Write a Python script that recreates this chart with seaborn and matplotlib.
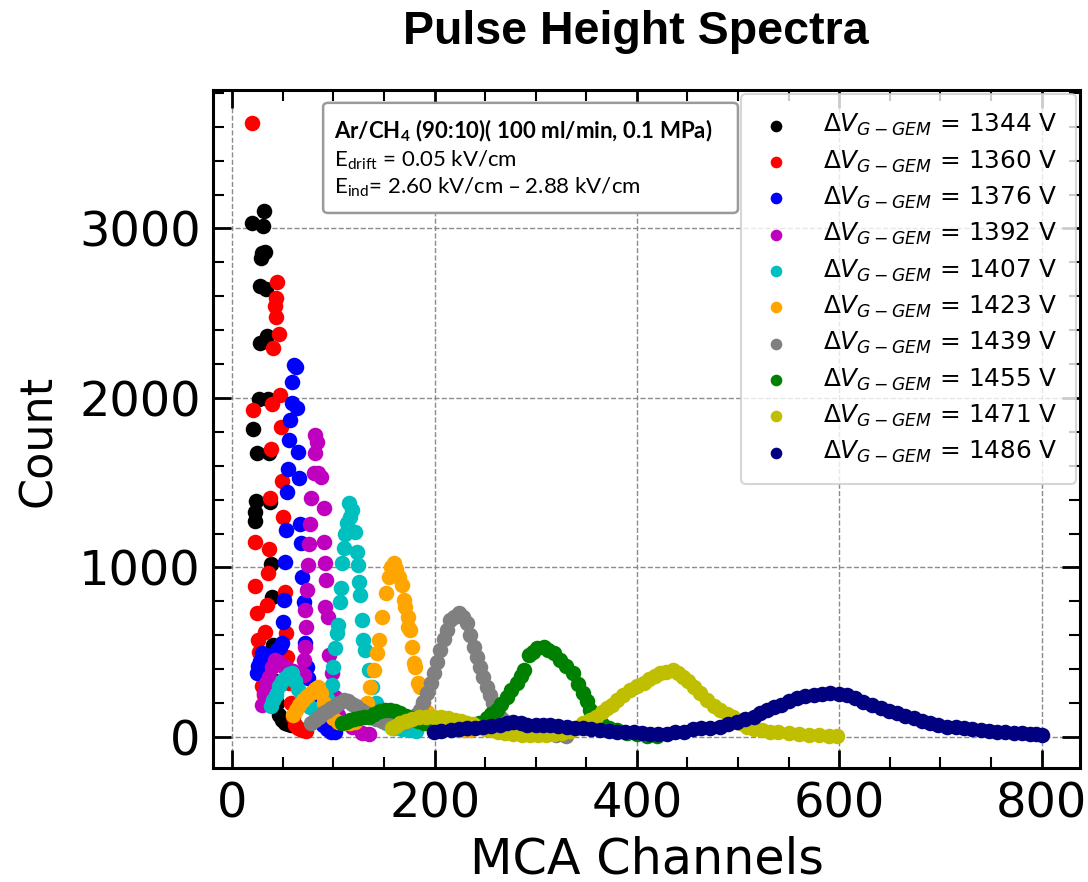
import matplotlib
matplotlib.use("Agg")
import matplotlib.pyplot as plt
from matplotlib.patches import FancyBboxPatch
from matplotlib.ticker import MultipleLocator
import seaborn as sns
import pandas as pd

# Applied voltage across the GEM for each spectrum
voltages = [1344, 1360, 1376, 1392, 1407, 1423, 1439, 1455, 1471, 1486]
colors = ["#000000", "#ff0000", "#0000ff", "#bf00bf", "#00bfbf", "#ffa500", "#808080",
          "#008000", "#bfbf00", "#000080"]

# MCA channel / count pairs for each spectrum
x_1344 = [19.5, 21, 22, 22.7, 23.7, 24, 26, 27, 27, 28.4, 29.6, 30.3, 31, 32.6, 33.6, 34.3, 35.3,
          35.9, 37.6, 38.6, 39, 40, 42, 44, 46, 49, 52, 55, 58, 62]
y_1344 = [3034, 1815, 1276, 1329, 1394, 1674, 1992, 2323, 2663, 2824, 2855, 3017, 3103, 2863, 2643,
          2366, 1992, 1674, 1388, 1019, 828, 543, 330, 200, 130, 100, 85, 78, 72, 68]

x_1360 = [20, 21, 22, 22.7, 24, 25.4, 26, 27.5, 29, 31, 32.6, 34, 35, 36, 37, 38, 39, 40, 42.5,
          43, 43.5, 44, 45.8, 47.5, 48, 49, 50, 52, 53, 54, 56, 58, 60, 62, 65, 69, 73]
y_1360 = [3620, 1929, 1152, 893, 730, 572, 503, 400, 300, 250, 621, 779, 966, 1107, 1408, 1697,
          1965, 2293, 2543, 2480, 2590, 2686, 2378, 2018, 1827, 1512, 1296, 854, 615, 474, 320,
          200, 120, 71, 50, 41, 35]

x_1376 = [24, 25.5, 27, 29, 32, 36, 40, 44, 47, 49, 50, 50.7, 51.7, 53, 53.8, 55, 55.7, 57, 59,
          59, 60.6, 63, 64, 65, 66, 66.5, 68, 69, 70.5, 72, 74, 75, 78, 82, 86, 90, 94, 98, 102]
y_1376 = [376, 420, 450, 494, 480, 470, 490, 510, 530, 553, 680, 808, 1034, 1221, 1447, 1579,
          1752, 1870, 1970, 2096, 2195, 2183, 1941, 1683, 1526, 1257, 1146, 946, 798, 553, 415,
          345, 250, 170, 110, 70, 45, 31, 30]

x_1392 = [29, 31, 33, 36, 39, 42.5, 46, 50, 55, 60, 65, 70.5, 70.5, 71.5, 72.8, 72, 74, 74.8, 76,
          77, 78, 80.4, 82, 82, 83.7, 85, 88, 90.3, 91, 92, 92.6, 92, 95, 96, 98.6, 101.8, 105,
          110, 118, 128, 135]
y_1392 = [190, 260, 320, 356, 410, 454, 440, 420, 400, 390, 380, 366, 454, 533, 651, 749, 867,
          1015, 1139, 1257, 1408, 1556, 1677, 1782, 1742, 1560, 1536, 1349, 1152, 1028, 926, 769,
          710, 484, 376, 238, 130, 90, 61, 22, 20]

x_1407 = [38, 40, 43, 46, 49, 52, 56, 59, 62, 65, 69, 73, 77, 82, 86, 90, 94, 98.6, 100, 102,
          103.5, 104.5, 106.8, 107.8, 108.5, 110, 111.7, 113.4, 115, 116.7, 118, 121.6, 123, 124,
          125, 126.6, 128, 129.6, 131, 135, 138, 142, 146, 152, 160, 168, 176, 182]
y_1407 = [180, 215, 250, 300, 330, 350, 370, 380, 330, 280, 238, 200, 175, 159, 165, 190, 230,
          307, 415, 523, 612, 661, 798, 877, 1025, 1113, 1198, 1261, 1379, 1300, 1340, 1211,
          1093, 1015, 916, 838, 690, 572, 515, 395, 297, 200, 130, 80, 55, 45, 40, 35]

x_1423 = [60, 63, 66, 70, 74, 78, 82, 85, 88, 91, 95, 100, 105, 110, 116, 121, 125, 129, 133,
          136.5, 140, 143, 144.7, 148, 151.6, 154.6, 157, 159.5, 162, 164.5, 168, 169.5, 171,
          174, 174, 176, 177.6, 180, 181, 184, 186, 189, 193, 196, 200, 206, 212, 220, 228, 235]
y_1423 = [130, 160, 190, 215, 240, 260, 285, 297, 260, 200, 150, 110, 90, 80, 80, 90, 110, 150,
          199, 297, 395, 493, 572, 710, 847, 946, 1000, 1025, 990, 946, 897, 808, 769, 710, 651,
          631, 533, 434, 415, 317, 297, 199, 150, 120, 90, 70, 55, 45, 40, 38]

x_1439 = [78, 82, 86, 90, 94, 98, 102, 106, 110, 114, 118, 122, 127, 132, 137, 142, 148, 154,
          160, 166, 172, 177, 182, 186, 189, 192.5, 196, 199, 202, 205.7, 209, 212, 215.6, 219,
          223.8, 228, 232, 235, 238.6, 242, 245, 248, 252, 255, 258, 262, 265, 268, 272, 280,
          290, 300, 310, 320, 330]
y_1439 = [80, 100, 120, 140, 155, 170, 185, 200, 215, 210, 195, 180, 160, 140, 120, 105, 95, 85,
          80, 80, 90, 105, 130, 159, 205, 258, 320, 376, 445, 513, 575, 631, 690, 705, 730, 705,
          671, 600, 533, 470, 415, 355, 297, 245, 199, 160, 120, 100, 80, 55, 35, 25, 18, 12, 8]

x_1455 = [108, 112, 116, 120, 125, 130, 135, 140, 146, 151, 156, 161, 166, 172, 178, 184, 190,
          196, 202, 208, 214, 220, 226, 232, 238, 244, 251.8, 256, 261.7, 266, 271.6, 276, 281.5,
          285, 288, 293, 297, 301, 307.8, 312, 317.7, 324, 330, 337, 342, 347, 351, 354, 357,
          360.6, 366, 372, 380, 390, 400, 410, 420]
y_1455 = [80, 90, 100, 105, 110, 115, 120, 135, 155, 160, 160, 155, 140, 125, 110, 95, 80, 68,
          58, 52, 50, 48, 50, 55, 65, 85, 110, 135, 159, 195, 238, 275, 317, 360, 395, 484, 500,
          523, 533, 515, 493, 454, 420, 376, 315, 258, 210, 159, 130, 100, 75, 55, 40, 25, 15,
          8, 5]

x_1471 = [158, 162, 166, 172, 178, 185, 192, 199, 206, 213, 220, 226, 232, 238, 244, 250, 256,
          263, 270, 278, 286, 294, 302, 310, 318, 326, 334, 341, 347, 354, 360, 366, 370, 375,
          380, 386, 393.5, 400, 406.7, 412, 418, 423, 429, 436, 441, 446, 451, 456, 462, 469,
          476, 482.5, 489, 495.5, 502, 509, 516, 524, 532, 540, 550, 560, 570, 580, 590, 598]
y_1471 = [55, 65, 81, 92, 105, 115, 118, 118, 115, 110, 100, 92, 85, 75, 60, 48, 38, 30, 24, 18,
          14, 12, 12, 14, 18, 25, 35, 55, 80, 100, 120, 145, 169, 190, 218, 245, 277, 300, 317,
          340, 360, 376, 385, 395, 380, 356, 330, 297, 260, 218, 185, 159, 135, 115, 85, 61, 45,
          38, 32, 27, 22, 17, 13, 10, 7, 4]

x_1486 = [199, 206, 216, 224, 232, 240, 248, 256, 265, 272, 278, 285, 291, 300, 307, 314, 322,
          331, 339, 347, 355, 364, 372, 380, 388, 397, 405, 413, 421, 430, 438, 447, 455, 463,
          472, 482.5, 490, 499, 507, 515.5, 522, 529, 536, 542, 550, 558, 566, 575, 583, 591,
          600, 608, 616, 624, 632, 641, 649, 657, 665, 674, 682, 690, 698, 707, 715, 723, 731,
          740, 748, 756, 764, 773, 781, 789, 795, 800]
y_1486 = [31, 35, 41, 45, 50, 55, 61, 66, 70, 80, 90, 80, 70, 72, 70, 70, 65, 61, 55, 50, 45,
          41, 36, 31, 31, 31, 25, 20, 20, 20, 28, 31, 45, 51, 55, 61, 75, 90, 105, 120, 140, 159,
          175, 189, 210, 228, 240, 248, 252, 258, 255, 248, 230, 208, 190, 169, 155, 140, 125,
          110, 95, 81, 70, 61, 56, 51, 46, 41, 36, 31, 28, 25, 22, 20, 15, 10]

xs = [x_1344, x_1360, x_1376, x_1392, x_1407, x_1423, x_1439, x_1455, x_1471, x_1486]
ys = [y_1344, y_1360, y_1376, y_1392, y_1407, y_1423, y_1439, y_1455, y_1471, y_1486]

sns.set_theme(style="ticks")
plt.rcParams["font.family"] = ["DejaVu Sans"]
plt.rcParams["mathtext.fontset"] = "dejavusans"
plt.rcParams["text.color"] = "black"
plt.rcParams["axes.labelcolor"] = "black"
plt.rcParams["xtick.color"] = "black"
plt.rcParams["ytick.color"] = "black"

fig = plt.figure(figsize=(10.88, 8.82), dpi=100)
ax = fig.add_axes([0.1958, 0.1293, 0.7968, 0.7687])

for v, c, xv, yv in zip(voltages, colors, xs, ys):
    df = pd.DataFrame({"channel": xv, "count": yv})
    sns.scatterplot(data=df, x="channel", y="count", color=c, s=125, linewidth=0,
                    label=rf"$\Delta V_{{G-GEM}}$ = {v} V", ax=ax, legend=False, zorder=3)

ax.set_xlim(-19, 838)
ax.set_ylim(-183, 3817)
ax.xaxis.set_major_locator(MultipleLocator(200))
ax.xaxis.set_minor_locator(MultipleLocator(50))
ax.yaxis.set_major_locator(MultipleLocator(1000))
ax.yaxis.set_minor_locator(MultipleLocator(200))
ax.tick_params(which="both", direction="in", top=True, right=True, colors="black")
ax.tick_params(which="major", length=13, width=2, labelsize=34.5, pad=9)
ax.tick_params(which="minor", length=8, width=1.5)
for sp in ax.spines.values():
    sp.set_linewidth(2.2)
    sp.set_color("black")

ax.grid(True, which="major", linestyle="--", color="gray", linewidth=1, alpha=0.9)
ax.set_axisbelow(True)

ax.set_xlabel("MCA Channels", fontsize=35.5, labelpad=6)
ax.set_ylabel("Count", fontsize=32)
ax.yaxis.set_label_coords(-0.177, 0.482)
fig.text(0.584, 0.964, "Pulse Height Spectra", ha="center", va="center",
         fontsize=33.5, fontweight="bold", family="Liberation Sans", color="black")

# gas and field conditions box
box = FancyBboxPatch((0.127, 0.8186), 0.4785, 0.1624, transform=ax.transAxes,
                     boxstyle="round,pad=0,rounding_size=0.006", fc="white", ec="#9a9a9a",
                     lw=1.8, zorder=5)
ax.add_patch(box)
ax.text(0.139, 0.9395, r"Ar/CH$_\mathregular{4}$ (90:10)( 100 ml/min, 0.1 MPa)",
        transform=ax.transAxes, fontsize=16, fontweight="bold", family="Lato",
        va="center", ha="left", zorder=6)
ax.text(0.139, 0.897, r"E$_\mathregular{drift}$ = 0.05 kV/cm", transform=ax.transAxes,
        fontsize=16, family="Lato", va="center", ha="left", zorder=6)
ax.text(0.139, 0.857, r"E$_\mathregular{ind}$= 2.60 kV/cm – 2.88 kV/cm",
        transform=ax.transAxes, fontsize=16, family="Lato", va="center", ha="left", zorder=6)

leg = ax.legend(loc="upper right", fontsize=17.8, frameon=True, fancybox=True,
                borderaxespad=0.15, labelspacing=0.41, handletextpad=1.25, borderpad=0.75,
                handlelength=1.3, markerscale=0.75)
leg.get_frame().set_edgecolor("#cccccc")
leg.get_frame().set_linewidth(1.5)
leg.set_zorder(7)

fig.savefig("out.png", dpi=100)
